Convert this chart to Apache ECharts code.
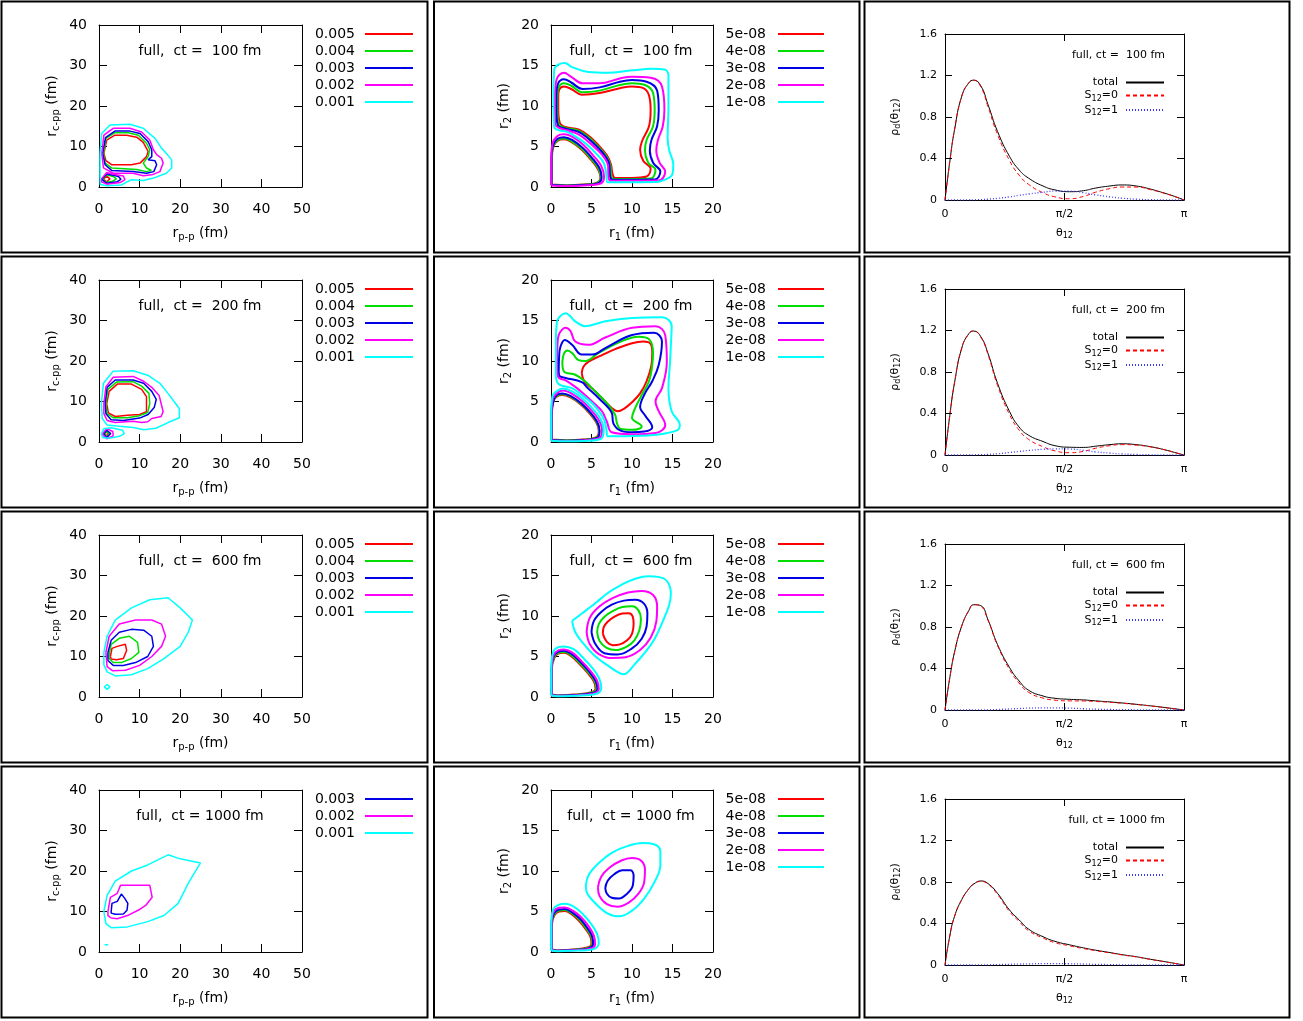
<!DOCTYPE html>
<html>
<head>
<meta charset="utf-8">
<script src="https://cdn.jsdelivr.net/npm/echarts@6/dist/echarts.min.js"></script>
<style>
html, body { margin: 0; padding: 0; background: #fff; }
#chart { width: 1303px; height: 1021px; }
</style>
</head>
<body>
<div id="chart"></div>
<script>
// ---------- labels ----------
const ctValues = [100, 200, 600, 1000];
const pairLevels = ['0.005', '0.004', '0.003', '0.002', '0.001'];
const pairLevelsLate = ['0.003', '0.002', '0.001'];
const radialLevels = ['5e-08', '4e-08', '3e-08', '2e-08', '1e-08'];
const angularNames = ['total', 'S12=0', 'S12=1'];

// ---------- p-p / c-pp distance contours (fm) ----------
const cpp100_5a = [[1.2,8.3],[1.9,11.6],[3.9,12.8],[6.8,12.8],[9.3,12.3],[10.9,11.0],[12.1,8.8],[11.7,7.5],[10.1,5.9],[8.0,5.5],[3.1,5.5],[1.7,6.5],[1.2,8.3]];
const cpp100_5b = [[1.1,1.9],[1.9,2.7],[2.7,2.0],[1.9,1.3],[1.1,1.9]];
const cpp100_4a = [[1.1,8.3],[1.7,12.0],[3.9,13.4],[7.2,13.4],[9.7,12.8],[11.7,10.8],[12.5,9.2],[12.1,7.5],[10.9,5.9],[11.7,4.7],[12.9,4.1],[11.7,3.8],[9.3,4.3],[3.1,4.7],[1.5,5.9],[1.1,8.3]];
const cpp100_4b = [[0.9,1.9],[1.9,3.0],[3.5,2.6],[4.3,2.0],[3.3,1.4],[1.9,1.1],[0.9,1.9]];
const cpp100_3a = [[0.9,8.3],[1.6,12.2],[3.9,13.8],[7.6,13.8],[10.1,13.2],[12.1,11.2],[13.0,9.2],[13.0,7.5],[12.1,6.7],[13.8,6.5],[14.2,5.5],[13.5,3.8],[11.7,3.4],[8.4,3.8],[3.1,4.1],[1.5,5.5],[0.9,8.3]];
const cpp100_3b = [[0.7,1.9],[1.9,3.2],[3.5,2.9],[4.8,2.6],[5.4,1.9],[4.5,1.3],[1.9,0.9],[0.7,1.9]];
const cpp100_2a = [[0.7,8.3],[1.2,12.8],[3.5,14.5],[7.6,14.5],[10.5,13.6],[12.5,11.6],[13.4,9.2],[14.2,8.0],[15.4,7.1],[15.8,5.9],[15.0,3.8],[13.0,3.0],[10.9,2.8],[8.4,3.4],[3.5,3.4],[1.1,4.7],[0.7,8.3]];
const cpp100_2b = [[0.6,2.0],[1.9,3.6],[3.9,3.1],[6.0,2.7],[6.4,1.8],[5.2,1.1],[1.9,0.7],[0.6,1.3],[0.6,2.0]];
const cpp100_1a = [[0.25,8.3],[0.66,13.2],[2.7,15.3],[7.6,15.5],[10.9,14.5],[13.8,12.0],[15.4,9.6],[16.6,8.3],[17.9,6.7],[17.9,4.7],[16.6,3.4],[13.4,2.2],[10.9,1.6],[8.0,1.8],[6.8,1.2],[5.5,0.5],[2.0,0.3],[0.3,0.6],[0.25,3.0],[0.25,8.3]];

const cpp200_5a = [[1.9,9.5],[2.5,12.5],[4.5,14.3],[8,14.3],[10.5,13],[11.7,11.2],[11.7,7.5],[10,6.8],[7,6.6],[4,6.3],[2.3,7.2],[1.9,9.5]];
const cpp200_5b = [[1.5,2.0],[1.9,2.5],[2.4,2.0],[1.9,1.5],[1.5,2.0]];
const cpp200_4a = [[1.7,9.5],[2.2,13],[4.3,14.8],[8.4,14.9],[10.5,13.8],[12.3,12],[12.5,9.5],[12.0,7.3],[10,6.5],[7,6.0],[3.5,6.0],[2.0,7.0],[1.7,9.5]];
const cpp200_4b = [[1.3,2.0],[1.9,2.7],[2.6,2.0],[1.9,1.3],[1.3,2.0]];
const cpp200_3a = [[1.5,9.5],[2.0,13.5],[4.0,15.3],[8.4,15.3],[11,14.5],[13,12.5],[14.1,10.5],[13.6,8.5],[12.1,6.8],[10,5.9],[6,5.3],[3,5.5],[1.7,7],[1.5,9.5]];
const cpp200_3b = [[1.1,2.0],[1.9,2.9],[2.9,2.1],[1.9,1.1],[1.1,2.0]];
const cpp200_2a = [[1.2,9.5],[1.7,13.6],[3.5,16.0],[8.4,16.2],[11,15.0],[13,13.5],[14.8,11.5],[15.3,9.5],[15.8,7.5],[15.3,6.3],[13,5.8],[12,5.0],[10.5,4.8],[8.4,5.1],[4,4.8],[2,5.3],[1.2,7],[1.2,9.5]];
const cpp200_2b = [[0.8,2.0],[1.9,3.3],[3.4,2.6],[3.5,1.5],[1.9,0.8],[0.8,2.0]];
const cpp200_1a = [[0.6,9.5],[1.1,14.5],[3.5,17.5],[8.4,17.6],[12,16.5],[15,14.5],[17,12],[18.5,10],[19.8,8.2],[19.8,6.0],[17,4.8],[14,3.4],[11,3.0],[8.5,3.6],[5,3.9],[2,4.2],[0.8,5.8],[0.6,9.5]];
const cpp200_1b = [[0.6,2.0],[1.2,3.3],[3,3.5],[5.8,2.9],[6.2,2.0],[5,1.4],[2.5,0.9],[0.9,1.1],[0.6,2.0]];

const cpp600_5a = [[2.8,10],[3.2,12],[4.5,12.5],[6.5,13],[6.8,11.5],[6,9.5],[4.3,9.2],[3,9.4],[2.8,10]];
const cpp600_4a = [[2.5,10.5],[3,13],[5,14.5],[7.5,15],[9.5,13.5],[9.8,11],[8,9.5],[5.5,8.5],[3.5,8.5],[2.5,9.5],[2.5,10.5]];
const cpp600_3a = [[2.2,11],[3.0,14],[5,16],[8,16.7],[11,16.5],[13,15],[13.4,12.5],[12,10],[9,8.5],[6,7.8],[3.5,7.8],[2.2,9],[2.2,11]];
const cpp600_2a = [[1.7,11],[2.5,15],[5,18],[9,19],[13,19],[15.4,18],[16.4,15],[15.4,12.5],[13,10],[10,7.8],[6.5,6.6],[3.3,6.5],[2,7.5],[1.7,11]];
const cpp600_1a = [[1.2,11],[2,15],[4,19],[8,22],[12.5,24],[17,24.5],[20,22],[23,19],[22,16],[20,12.5],[16,9.5],[12,7],[8,5.5],[4,5.2],[2,6.2],[1.2,8],[1.2,11]];
const cpp600_1b = [[1.3,2.5],[2.0,3.1],[2.7,2.5],[2.0,1.9],[1.3,2.5]];

const cpp1000_3a = [[3.0,10],[3.2,12],[4.5,12.5],[5.5,14.3],[6.3,13.3],[7.1,12],[6.9,10.3],[6,9.4],[4,9.3],[3,9.6],[3,10]];
const cpp1000_2a = [[2.2,10],[2.8,13.5],[4.5,14.5],[5.3,16.5],[8,16.5],[12.5,16.5],[13.1,13.5],[11.5,11.5],[10,10.5],[7,9],[4.5,8.2],[3,8.4],[2.2,9],[2.2,10]];
const cpp1000_1a = [[1.2,10],[2,14],[4,17.5],[8,20],[12,21.5],[17,24],[20,23],[25,22],[22,17],[19.5,12],[16,9],[12,7.5],[7,6.2],[3,6.0],[1.7,7],[1.2,10]];
const cpp1000_1b = [[1.4,1.8],[2.3,1.8]];

// ---------- r1 / r2 density contours (fm) ----------
const rr100_5a = [[0.9,11.2],[1.0,12.0],[1.6,12.4],[2.5,12.1],[3.8,11.4],[6,11.6],[8.5,12.2],[10,12.4],[11.4,12.2],[12.1,11.3],[12.3,9.5],[12.1,7.5],[11.3,5.8],[11.0,4.6],[11.4,3.2],[12.3,2.3],[11.8,1.3],[10,1.12],[7.9,1.12],[7.6,1.6],[7.4,2.8],[6.9,3.9],[5.9,5.1],[4.8,6.2],[3.4,7.1],[1.8,7.4],[1.1,7.9],[0.9,9.5],[0.9,11.2]];
const rr100_5b = [[0.1,0.3],[0.1,3.5],[0.3,5.0],[0.8,5.7],[1.6,5.9],[2.6,5.5],[3.8,4.6],[4.9,3.4],[5.8,2.2],[6.1,1.2],[5.6,0.5],[4,0.3],[2,0.2],[0.1,0.3]];
const rr100_4a = [[0.78,11.2],[0.95,12.3],[1.6,12.8],[2.5,12.5],[3.9,11.7],[6,11.9],[8.5,12.6],[10,12.8],[11.6,12.6],[12.6,11.6],[12.8,9.5],[12.6,7.5],[11.8,5.8],[11.6,4.5],[12.0,3.0],[12.9,2.1],[12.3,1.05],[10,1.0],[7.7,1.0],[7.45,1.4],[7.3,2.8],[6.8,3.85],[5.82,5.0],[4.75,6.05],[3.4,6.95],[1.8,7.3],[0.95,7.75],[0.78,9.5],[0.78,11.2]];
const rr100_4b = [[0.08,0.27],[0.08,3.5],[0.28,5.05],[0.8,5.78],[1.6,5.98],[2.65,5.58],[3.85,4.68],[4.95,3.48],[5.85,2.28],[6.15,1.22],[5.65,0.48],[4,0.28],[2,0.18],[0.08,0.27]];
const rr100_3a = [[0.66,11.2],[0.85,12.7],[1.6,13.3],[2.5,12.9],[3.9,12.1],[6,12.3],[8.5,13.0],[10,13.2],[11.8,13.0],[13.1,11.9],[13.3,9.5],[13.1,7.5],[12.4,5.8],[12.2,4.5],[12.6,3.0],[13.5,1.9],[12.8,0.92],[10,0.9],[7.55,0.9],[7.3,1.3],[7.2,2.8],[6.7,3.8],[5.75,4.9],[4.7,5.9],[3.4,6.8],[1.8,7.2],[0.85,7.6],[0.66,9.5],[0.66,11.2]];
const rr100_3b = [[0.06,0.24],[0.06,3.5],[0.25,5.15],[0.8,5.95],[1.6,6.15],[2.7,5.75],[3.95,4.8],[5.05,3.6],[5.95,2.4],[6.25,1.25],[5.75,0.45],[4,0.25],[2,0.15],[0.06,0.24]];
const rr100_2a = [[0.5,11.2],[0.7,13.3],[1.6,14.1],[2.5,13.6],[3.9,12.8],[6,12.8],[8.5,13.4],[10,13.6],[12.3,13.5],[13.7,12.4],[14.0,9.5],[13.8,7.5],[13.2,5.8],[13.0,4.5],[13.4,3.0],[14.1,1.9],[13.3,0.8],[10,0.78],[7.35,0.78],[7.1,1.2],[7.05,2.6],[6.6,3.6],[5.6,4.7],[4.6,5.6],[3.4,6.5],[2,7.0],[1.0,7.3],[0.5,7.8],[0.5,11.2]];
const rr100_2b = [[0.04,0.2],[0.04,3.5],[0.2,5.4],[0.8,6.3],[1.6,6.5],[2.8,6.1],[4.1,5.1],[5.25,3.85],[6.2,2.6],[6.55,1.3],[6.05,0.4],[4,0.2],[2,0.12],[0.04,0.2]];
const rr100_1a = [[0.3,11],[0.4,14.5],[0.9,15.1],[1.7,15.3],[2.6,14.8],[4.6,14.2],[7,14.1],[10,14.4],[12.5,14.6],[14,14.5],[14.5,13.8],[14.5,10],[14.4,6],[14.6,4.5],[15.1,2.8],[15.0,1.6],[14.3,1.0],[13,0.62],[10,0.6],[7.0,0.6],[6.8,1.8],[6.5,3.0],[5.7,4.0],[4.6,5.1],[3.4,6.0],[2,6.8],[1.0,7.0],[0.4,7.4],[0.3,11]];

const rr200_5a = [[3.8,8.5],[4.0,9.3],[4.6,9.9],[6,10.6],[8,11.5],[10,12.2],[11.4,12.4],[12.3,12.1],[12.5,11],[12.4,9.5],[11.8,7.5],[11,6],[10,4.9],[9,4.1],[8.2,3.8],[7.5,4.2],[6.5,5.2],[5.2,6.5],[4.1,7.5],[3.8,8.5]];
const rr200_5b = [[0.1,0.3],[0.1,3.5],[0.3,5.0],[0.7,5.6],[1.4,5.8],[2.4,5.5],[3.6,4.7],[4.7,3.6],[5.6,2.4],[5.9,1.4],[5.6,0.6],[4,0.3],[2,0.2],[0.1,0.3]];
const rr200_4a = [[1.4,9.9],[1.6,10.9],[2.0,11.3],[2.6,11.0],[3.4,10.1],[4.2,10.0],[5.9,11.0],[8.4,12.3],[10.8,13.0],[12.1,12.7],[12.6,11],[12.5,9.5],[12.1,7.5],[11.2,5.8],[10.4,4.2],[10.0,3.0],[11.2,1.9],[10.8,1.6],[10,1.5],[8.6,1.6],[8.15,2.3],[7.9,3.4],[6.7,5.0],[5.5,6.2],[4.2,7.5],[3.0,8.3],[1.6,8.7],[1.4,9.9]];
const rr200_4b = [[0.09,0.28],[0.09,3.5],[0.28,5.05],[0.7,5.68],[1.4,5.88],[2.45,5.58],[3.65,4.76],[4.76,3.65],[5.66,2.44],[5.96,1.4],[5.65,0.56],[4,0.28],[2,0.18],[0.09,0.28]];
const rr200_3a = [[0.95,8.5],[1.0,10.5],[1.15,11.7],[1.7,12.6],[2.6,12.0],[3.8,10.8],[5.1,10.8],[6.7,11.6],[10,13.2],[12.7,13.5],[13.7,12.4],[13.3,9.5],[12.5,7.5],[11.6,6.0],[11.0,4.3],[11.6,3.3],[12.5,1.8],[11.5,1.3],[10,1.2],[8.6,1.4],[7.7,2.3],[7.5,3.6],[5.9,5.4],[4.5,6.7],[3.8,7.4],[1.8,7.9],[1.1,8.1],[0.95,8.5]];
const rr200_3b = [[0.08,0.25],[0.08,3.5],[0.3,5.1],[0.7,5.8],[1.4,6.0],[2.4,5.7],[3.7,4.8],[4.8,3.7],[5.7,2.5],[6.0,1.4],[5.7,0.5],[4,0.25],[2,0.15],[0.08,0.25]];
const rr200_2a = [[0.74,9.5],[0.8,12],[0.95,13.2],[1.4,13.9],[1.8,14.1],[2.4,13.7],[3.0,12.4],[4.6,12.0],[6.7,12.9],[10,14.1],[12.9,14.3],[14.1,13.2],[14.3,9.9],[13.7,6.65],[12.9,5.0],[13.3,3.8],[14.1,2.1],[12.9,1.1],[10,0.95],[7.5,1.2],[6.9,2.5],[6.3,3.8],[5.3,4.8],[4.2,5.8],[3.0,6.8],[1.8,7.6],[0.9,8.0],[0.74,9.5]];
const rr200_2b = [[0.05,0.2],[0.05,3.5],[0.25,5.4],[0.8,6.1],[1.5,6.35],[2.5,6.0],[3.8,5.1],[5.0,3.9],[5.9,2.7],[6.3,1.5],[6.0,0.5],[4,0.2],[2,0.12],[0.05,0.2]];
const rr200_1a = [[0.6,8],[0.6,12],[0.74,14.9],[1.2,15.6],[1.8,15.9],[2.3,15.6],[3.0,14.9],[4.2,14.3],[6.7,14.9],[10,15.3],[13.7,15.4],[14.9,14.3],[14.8,12],[14.7,9.9],[14.5,6.65],[14.9,3.8],[15.9,2.1],[15.5,1.4],[12,0.8],[8,0.7],[7.0,0.7],[6.85,1.5],[6.55,2.8],[5.85,3.9],[4.95,4.9],[3.95,5.7],[2.6,6.65],[1.4,6.95],[0.85,7.25],[0.6,8]];
const rr200_1b = [[0.02,0.15],[0.02,3.5],[0.2,5.7],[0.8,6.35],[1.5,6.6],[2.6,6.25],[3.9,5.35],[5.15,4.1],[6.1,2.85],[6.5,1.5],[6.2,0.4],[4,0.12],[2,0.08],[0.02,0.15]];

const rr600_5a = [[6.4,7.8],[6.5,8.6],[7.0,9.3],[7.8,9.9],[8.8,10.3],[9.6,10.35],[10.1,9.9],[10.2,9.0],[10.0,7.8],[9.4,7.0],[8.5,6.5],[7.6,6.4],[6.9,6.8],[6.4,7.8]];
const rr600_5b = [[0.1,0.3],[0.1,3.5],[0.4,4.8],[0.9,5.35],[1.6,5.45],[2.4,5.1],[3.4,4.2],[4.5,3.0],[5.3,1.9],[5.5,1.0],[5.0,0.6],[3,0.3],[0.8,0.2],[0.1,0.3]];
const rr600_4a = [[5.7,8.0],[5.9,9.0],[6.6,9.9],[7.6,10.6],[8.8,11.1],[10.0,11.2],[10.8,10.7],[11.1,9.6],[10.9,8.2],[10.3,7.0],[9.3,6.2],[8.0,5.8],[6.8,6.1],[6.0,6.9],[5.7,8.0]];
const rr600_4b = [[0.09,0.28],[0.09,3.5],[0.37,4.9],[0.9,5.45],[1.6,5.55],[2.45,5.2],[3.45,4.3],[4.6,3.05],[5.4,1.95],[5.6,1.0],[5.05,0.55],[3,0.27],[0.8,0.18],[0.09,0.28]];
const rr600_3a = [[5.0,8.0],[5.3,9.4],[6.2,10.5],[7.5,11.4],[9.0,11.9],[10.4,12.0],[11.5,11.5],[11.9,10.3],[11.8,8.7],[11.2,7.2],[10.0,6.0],[8.2,5.25],[6.6,5.4],[5.5,6.5],[5.0,8.0]];
const rr600_3b = [[0.08,0.25],[0.08,3.5],[0.33,5.0],[0.9,5.6],[1.6,5.7],[2.5,5.35],[3.55,4.4],[4.7,3.15],[5.5,2.0],[5.75,1.0],[5.15,0.5],[3,0.24],[0.8,0.16],[0.08,0.25]];
const rr600_2a = [[4.4,8.0],[4.8,9.8],[6.0,11.2],[7.6,12.2],[9.5,12.9],[11.2,13.1],[12.6,12.6],[13.1,11.2],[13.0,9.3],[12.3,7.3],[11.0,5.8],[9.2,4.9],[7.6,4.8],[5.9,5.3],[4.8,6.5],[4.4,8.0]];
const rr600_2b = [[0.06,0.22],[0.06,3.5],[0.3,5.1],[0.9,5.75],[1.6,5.85],[2.6,5.5],[3.65,4.55],[4.8,3.3],[5.65,2.1],[5.9,1.0],[5.3,0.45],[3,0.2],[0.8,0.14],[0.06,0.22]];
const rr600_1a = [[2.6,9.4],[3.8,10.3],[5.5,11.6],[7.1,12.9],[8.8,13.9],[10.4,14.6],[12.0,14.9],[13.4,14.8],[14.4,14.2],[14.8,12.8],[14.6,11.4],[13.7,9.1],[12.8,7.2],[11.7,5.6],[10.3,4.0],[9.4,3.0],[8.9,2.8],[8.2,3.1],[7.0,3.9],[5.5,5.0],[4.0,6.6],[3.0,8.0],[2.6,9.4]];
const rr600_1b = [[0.03,0.18],[0.03,3.5],[0.25,5.5],[0.9,6.15],[1.6,6.25],[2.8,5.9],[3.9,4.9],[5.1,3.6],[5.95,2.3],[6.2,1.1],[5.6,0.4],[3,0.15],[0.8,0.1],[0.03,0.18]];

const rr1000_5b = [[0.1,0.3],[0.1,3.3],[0.4,4.5],[1.0,5.0],[1.7,5.05],[2.5,4.7],[3.4,3.9],[4.3,2.8],[4.9,1.8],[5.0,1.0],[4.5,0.55],[2.5,0.3],[0.8,0.2],[0.1,0.3]];
const rr1000_4b = [[0.09,0.28],[0.09,3.3],[0.37,4.6],[1.0,5.12],[1.7,5.17],[2.55,4.8],[3.5,4.0],[4.4,2.85],[5.0,1.85],[5.1,1.0],[4.55,0.5],[2.5,0.27],[0.8,0.18],[0.09,0.28]];
const rr1000_3a = [[6.7,7.9],[7.0,8.8],[7.8,9.6],[8.8,10.1],[9.8,10.1],[10.2,9.4],[10.1,8.2],[9.4,7.2],[8.4,6.6],[7.5,6.7],[6.9,7.2],[6.7,7.9]];
const rr1000_3b = [[0.08,0.25],[0.08,3.3],[0.33,4.7],[1.0,5.25],[1.7,5.3],[2.6,4.9],[3.6,4.1],[4.5,2.95],[5.1,1.9],[5.2,1.0],[4.6,0.45],[2.5,0.24],[0.8,0.16],[0.08,0.25]];
const rr1000_2a = [[5.8,8.0],[6.2,9.3],[7.2,10.4],[8.7,11.3],[10.0,11.6],[11.1,11.3],[11.6,10.2],[11.5,8.6],[10.8,7.2],[9.6,6.1],[8.2,5.6],[6.9,5.9],[6.0,6.9],[5.8,8.0]];
const rr1000_2b = [[0.06,0.22],[0.06,3.3],[0.3,4.9],[1.0,5.45],[1.7,5.5],[2.7,5.1],[3.75,4.25],[4.7,3.1],[5.3,2.0],[5.45,1.0],[4.8,0.4],[2.5,0.2],[0.8,0.14],[0.06,0.22]];
const rr1000_1a = [[4.3,8.3],[4.7,9.6],[5.9,11.0],[7.6,12.3],[9.5,13.1],[11.3,13.45],[12.7,13.3],[13.5,12.4],[13.5,10.7],[12.7,8.5],[11.5,6.6],[10.0,5.1],[8.4,4.4],[6.9,4.8],[5.2,6.3],[4.4,7.4],[4.3,8.3]];
const rr1000_1b = [[0.03,0.18],[0.03,3.3],[0.25,5.2],[1.0,5.85],[1.7,5.95],[2.9,5.55],[4.0,4.6],[5.0,3.4],[5.7,2.2],[5.9,1.1],[5.2,0.35],[2.5,0.15],[0.8,0.1],[0.03,0.18]];

// ---------- opening-angle distributions ----------
const theta12 = [0, 0.063, 0.126, 0.22, 0.314, 0.377, 0.471, 0.565, 0.691, 0.848, 0.974, 1.1, 1.288, 1.445, 1.634, 1.822, 1.979, 2.168, 2.325, 2.513, 2.702, 2.89, 3.016, 3.1416];
const total100 = [0, 0.37, 0.68, 1.0, 1.13, 1.155, 1.10, 0.92, 0.66, 0.42, 0.29, 0.21, 0.135, 0.097, 0.08, 0.09, 0.115, 0.135, 0.145, 0.135, 0.105, 0.065, 0.035, 0];
const s0_100 = [0, 0.37, 0.68, 1.0, 1.13, 1.155, 1.09, 0.90, 0.63, 0.38, 0.24, 0.15, 0.07, 0.03, 0.012, 0.035, 0.075, 0.11, 0.125, 0.125, 0.10, 0.063, 0.034, 0];
const s1_100 = [0, 0, 0, 0, 0.001, 0.002, 0.004, 0.008, 0.016, 0.03, 0.045, 0.058, 0.075, 0.085, 0.085, 0.07, 0.05, 0.03, 0.018, 0.008, 0.003, 0.001, 0, 0];
const total200 = [0, 0.38, 0.70, 1.03, 1.17, 1.195, 1.14, 0.98, 0.69, 0.42, 0.27, 0.19, 0.13, 0.09, 0.075, 0.073, 0.085, 0.10, 0.108, 0.10, 0.08, 0.05, 0.025, 0];
const s0_200 = [0, 0.38, 0.70, 1.03, 1.17, 1.195, 1.135, 0.97, 0.67, 0.39, 0.24, 0.15, 0.08, 0.04, 0.022, 0.035, 0.065, 0.09, 0.10, 0.095, 0.078, 0.05, 0.025, 0];
const s1_200 = [0, 0, 0, 0, 0.001, 0.002, 0.003, 0.006, 0.012, 0.024, 0.034, 0.044, 0.055, 0.06, 0.058, 0.045, 0.03, 0.018, 0.01, 0.005, 0.002, 0.001, 0, 0];
const total600 = [0, 0.31, 0.56, 0.81, 0.96, 1.015, 1.005, 0.87, 0.63, 0.41, 0.28, 0.19, 0.135, 0.113, 0.103, 0.097, 0.088, 0.078, 0.068, 0.055, 0.04, 0.024, 0.012, 0];
const s0_600 = [0, 0.31, 0.56, 0.81, 0.96, 1.015, 1.0, 0.865, 0.62, 0.39, 0.26, 0.17, 0.115, 0.095, 0.088, 0.087, 0.082, 0.074, 0.065, 0.053, 0.039, 0.023, 0.012, 0];
const s1_600 = [0, 0, 0, 0, 0, 0.001, 0.001, 0.002, 0.005, 0.01, 0.014, 0.018, 0.02, 0.02, 0.018, 0.012, 0.008, 0.005, 0.003, 0.002, 0.001, 0, 0, 0];
const total1000 = [0, 0.28, 0.47, 0.63, 0.735, 0.78, 0.81, 0.785, 0.69, 0.53, 0.435, 0.345, 0.273, 0.228, 0.195, 0.165, 0.143, 0.12, 0.1, 0.08, 0.055, 0.032, 0.016, 0];
const s0_1000 = [0, 0.28, 0.47, 0.63, 0.735, 0.78, 0.805, 0.78, 0.68, 0.515, 0.42, 0.33, 0.26, 0.215, 0.185, 0.158, 0.138, 0.116, 0.097, 0.078, 0.054, 0.031, 0.016, 0];
const s1_1000 = [0, 0, 0, 0, 0, 0, 0.001, 0.002, 0.004, 0.007, 0.009, 0.011, 0.013, 0.013, 0.012, 0.009, 0.006, 0.004, 0.002, 0.001, 0, 0, 0, 0];

// ---------- assembly ----------
const FONT = 'DejaVu Sans';
const LEVEL_COLORS = ['#ff0000', '#00dd00', '#0000e6', '#ff00ff', '#00ffff'];
const ROW_Y = [0, 255, 510, 765];

const pairPanels = [
  { names: pairLevels, loops: [[cpp100_5a, cpp100_5b], [cpp100_4a, cpp100_4b], [cpp100_3a, cpp100_3b], [cpp100_2a, cpp100_2b], [cpp100_1a]] },
  { names: pairLevels, loops: [[cpp200_5a, cpp200_5b], [cpp200_4a, cpp200_4b], [cpp200_3a, cpp200_3b], [cpp200_2a, cpp200_2b], [cpp200_1a, cpp200_1b]] },
  { names: pairLevels, loops: [[cpp600_5a], [cpp600_4a], [cpp600_3a], [cpp600_2a], [cpp600_1a, cpp600_1b]] },
  { names: pairLevelsLate, loops: [[cpp1000_3a], [cpp1000_2a], [cpp1000_1a, cpp1000_1b]] }
];
const radialPanels = [
  [[rr100_5a, rr100_5b], [rr100_4a, rr100_4b], [rr100_3a, rr100_3b], [rr100_2a, rr100_2b], [rr100_1a]],
  [[rr200_5a, rr200_5b], [rr200_4a, rr200_4b], [rr200_3a, rr200_3b], [rr200_2a, rr200_2b], [rr200_1a, rr200_1b]],
  [[rr600_5a, rr600_5b], [rr600_4a, rr600_4b], [rr600_3a, rr600_3b], [rr600_2a, rr600_2b], [rr600_1a, rr600_1b]],
  [[rr1000_5b], [rr1000_4b], [rr1000_3a, rr1000_3b], [rr1000_2a, rr1000_2b], [rr1000_1a, rr1000_1b]]
];
const angularPanels = [
  [total100, s0_100, s1_100],
  [total200, s0_200, s1_200],
  [total600, s0_600, s1_600],
  [total1000, s0_1000, s1_1000]
];

const SUB14 = { fontFamily: FONT, fontSize: 10, color: '#000', padding: [8, 0, 0, 0] };
const SUB11 = { fontFamily: FONT, fontSize: 8, color: '#000', padding: [6, 0, 0, 0] };

const COLS = [
  { grid: { left: 99, top: 25, width: 203, height: 162 },
    x: { min: 0, max: 50, interval: 10 }, y: { min: 0, max: 40, interval: 10 },
    tick: 8, fs: 14, xm: 15, ym: 12, sub: SUB14,
    xName: 'r{s|p-p} (fm)', yName: 'r{s|c-pp} (fm)', xGap: 37, yGap: 38 },
  { grid: { left: 551, top: 25, width: 162, height: 162 },
    x: { min: 0, max: 20, interval: 5 }, y: { min: 0, max: 20, interval: 5 },
    tick: 8, fs: 14, xm: 15, ym: 12, sub: SUB14,
    xName: 'r{s|1} (fm)', yName: 'r{s|2} (fm)', xGap: 37, yGap: 38 },
  { grid: { left: 945, top: 34, width: 239, height: 166 },
    x: { min: 0, max: Math.PI, interval: Math.PI / 2 }, y: { min: 0, max: 1.6, interval: 0.4 },
    tick: 7, fs: 11, xm: 9, ym: 8, sub: SUB11,
    xName: '\u03b8{s|12}', yName: '\u03c1{s|d}(\u03b8{s|12})', xGap: 26, yGap: 43,
    xFmt: v => { const r = v / Math.PI; if (r < 0.01) return '0'; if (Math.abs(r - 0.5) < 0.01) return '\u03c0/2'; if (Math.abs(r - 1) < 0.01) return '\u03c0'; return ''; } }
];

const grids = [], xAxes = [], yAxes = [], series = [], legends = [], graphics = [];

function makeAxis(dim, gi, c, primary) {
  const s = dim === 'x' ? c.x : c.y;
  const ax = {
    type: 'value', gridIndex: gi, min: s.min, max: s.max, interval: s.interval,
    position: dim === 'x' ? (primary ? 'bottom' : 'top') : (primary ? 'left' : 'right'),
    axisLine: { show: true, onZero: false, lineStyle: { color: '#000', width: 1 } },
    axisTick: { show: true, inside: true, length: c.tick, lineStyle: { color: '#000', width: 1 } },
    splitLine: { show: false },
    axisLabel: { show: false }
  };
  if (primary) {
    ax.axisLabel = { show: true, color: '#000', fontFamily: FONT, fontSize: c.fs,
      margin: dim === 'x' ? c.xm : c.ym };
    if (dim === 'x' && c.xFmt) ax.axisLabel.formatter = c.xFmt;
    ax.name = dim === 'x' ? c.xName : c.yName;
    ax.nameLocation = 'middle';
    ax.nameGap = dim === 'x' ? c.xGap : c.yGap;
    ax.nameRotate = dim === 'x' ? 0 : 90;
    ax.nameMoveOverlap = false;
    ax.nameTextStyle = { color: '#000', fontFamily: FONT, fontSize: c.fs,
      rich: { s: c.sub } };
  }
  return ax;
}

function addGrid(row, col) {
  const c = COLS[col];
  const gi = grids.length;
  grids.push({ left: c.grid.left, top: ROW_Y[row] + c.grid.top, width: c.grid.width, height: c.grid.height,
    containLabel: false, outerBoundsMode: 'none' });
  xAxes.push(makeAxis('x', gi, c, true), makeAxis('x', gi, c, false));
  yAxes.push(makeAxis('y', gi, c, true), makeAxis('y', gi, c, false));
  return gi;
}

function addLegend(names, o) {
  legends.push({
    show: true, orient: 'vertical', align: 'right', selectedMode: false, padding: 0,
    right: o.right, top: o.top, itemWidth: o.w, itemHeight: o.h, itemGap: o.gap,
    data: names,
    // line samples only: the marker drawn by the line legend icon is made invisible
    itemStyle: { opacity: 0, borderWidth: 0 },
    formatter: n => n.replace(/^S12/, 'S{s|12}'),
    textStyle: { color: '#000', fontFamily: FONT, fontSize: o.fs, padding: [0, o.pad, 0, 0],
      rich: { s: Object.assign({}, SUB11) } }
  });
}

function frame(x, y, w, h) {
  graphics.push({ type: 'rect', shape: { x, y, width: w, height: h },
    style: { fill: 'none', stroke: '#000', lineWidth: 2 }, silent: true });
}

function label(text, x, y, fs, align) {
  graphics.push({ type: 'text', x, y, silent: true,
    style: { text, font: fs + 'px "' + FONT + '"', fill: '#000', align, verticalAlign: 'middle',
      textAlign: align, textVerticalAlign: 'middle' } });
}

ctValues.forEach((ct, row) => {
  const y0 = ROW_Y[row];
  const ctText = String(ct).padStart(4, ' ');

  // left column: p-p vs c-pp distances
  const g1 = addGrid(row, 0);
  const pp = pairPanels[row];
  pp.names.forEach((nm, k) => {
    const color = LEVEL_COLORS[pairLevels.indexOf(nm)];
    pp.loops[k].forEach(path => series.push({
      type: 'line', name: nm, xAxisIndex: 2 * g1, yAxisIndex: 2 * g1, data: path,
      symbol: 'none', showSymbol: false, lineStyle: { color, width: 1.5 }, itemStyle: { color },
      silent: true
    }));
  });
  addLegend(pp.names, { right: 1303 - 414, top: y0 + 27, w: 48, h: 14, gap: 3, fs: 14, pad: 5 });
  frame(1.5, y0 + 1.5, 426, 251);
  label('full,  ct = ' + ctText + ' fm', 200, y0 + 51, 14, 'center');

  // middle column: r1 / r2 densities
  const g2 = addGrid(row, 1);
  radialLevels.forEach((nm, k) => {
    const color = LEVEL_COLORS[k];
    radialPanels[row][k].forEach(path => series.push({
      type: 'line', name: nm, xAxisIndex: 2 * g2, yAxisIndex: 2 * g2, data: path,
      symbol: 'none', showSymbol: false, smooth: 0.4, lineStyle: { color, width: 2 }, itemStyle: { color },
      silent: true
    }));
  });
  addLegend(radialLevels, { right: 1303 - 825, top: y0 + 27, w: 46, h: 14, gap: 3, fs: 14, pad: 7 });
  frame(434, y0 + 1.5, 425.5, 251);
  label('full,  ct = ' + ctText + ' fm', 631, y0 + 51, 14, 'center');

  // right column: opening-angle distribution
  const g3 = addGrid(row, 2);
  const styles = [
    { color: '#000000', type: 'solid', width: 1 },
    { color: '#ff0000', type: [4, 3], width: 1 },
    { color: '#3a3aff', type: [1, 2], width: 1.3 }
  ];
  angularNames.forEach((nm, k) => {
    const vals = angularPanels[row][k];
    series.push({
      type: 'line', name: nm, xAxisIndex: 2 * g3, yAxisIndex: 2 * g3,
      data: theta12.map((t, i) => [t, vals[i]]),
      symbol: 'none', showSymbol: false, smooth: 0.5,
      lineStyle: styles[k], itemStyle: { color: styles[k].color }, silent: true
    });
  });
  addLegend(angularNames, { right: 1303 - 1165, top: y0 + 77, w: 38, h: 10, gap: 2, fs: 11, pad: 3 });
  frame(864.5, y0 + 1.5, 425, 251);
  label('full, ct = ' + ctText + ' fm', 1165, y0 + 55, 11, 'right');
});

const chart = echarts.init(document.getElementById('chart'), null, { renderer: 'canvas', width: 1303, height: 1021 });
chart.setOption({
  animation: false,
  backgroundColor: '#ffffff',
  textStyle: { fontFamily: FONT },
  grid: grids,
  xAxis: xAxes,
  yAxis: yAxes,
  legend: legends,
  series: series,
  graphic: graphics
});
</script>
</body>
</html>
